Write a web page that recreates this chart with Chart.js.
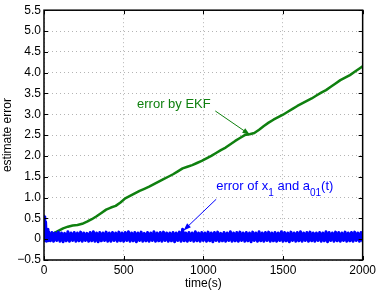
<!DOCTYPE html>
<html>
<head>
<meta charset="utf-8">
<script src="https://cdn.jsdelivr.net/npm/chart.js@4"></script>
<style>
	body { margin: 0; background: #fff; }
	#wrap { width: 379px; height: 292px; position: relative; }
</style>
</head>
<body>
<div id="wrap"><canvas id="myChart"></canvas></div>
<script>
// EKF error (grows with time)
const ekfTime = [0, 30, 60, 90, 120, 150, 180, 210, 240, 270, 300, 330, 360, 390, 420, 450, 480, 510, 540, 570,
	600, 630, 660, 690, 720, 750, 780, 810, 840, 870, 900, 930, 960, 990, 1020, 1050, 1080, 1110, 1140, 1170,
	1200, 1230, 1260, 1290, 1320, 1350, 1380, 1410, 1440, 1470, 1500, 1530, 1560, 1590, 1620, 1650, 1680, 1710,
	1740, 1770, 1800, 1830, 1860, 1890, 1920, 1950, 1980, 2000];
const ekfErr = [0, 0.06, 0.14, 0.2, 0.26, 0.3, 0.33, 0.34, 0.37, 0.42, 0.48, 0.55, 0.63, 0.71, 0.76, 0.8, 0.88, 0.98, 1.04, 1.1,
	1.16, 1.21, 1.26, 1.32, 1.38, 1.44, 1.5, 1.56, 1.63, 1.7, 1.74, 1.78, 1.83, 1.88, 1.94, 2.0, 2.07, 2.14, 2.2, 2.28,
	2.36, 2.43, 2.5, 2.52, 2.55, 2.63, 2.72, 2.8, 2.87, 2.93, 2.99, 3.06, 3.13, 3.2, 3.26, 3.32, 3.38, 3.45,
	3.52, 3.58, 3.66, 3.74, 3.82, 3.88, 3.94, 4.02, 4.1, 4.15];

// error of x1 and a01(t) (noisy band around zero)
const obsTime = [0, 5, 10, 15, 20, 25, 30,
	40, 50, 60, 70, 80, 90, 100, 110, 120, 130,
	140, 150, 160, 170, 180, 190, 200, 210, 220, 230,
	240, 250, 260, 270, 280, 290, 300, 310, 320, 330,
	340, 350, 360, 370, 380, 390, 400, 410, 420, 430,
	440, 450, 460, 470, 480, 490, 500, 510, 520, 530,
	540, 550, 560, 570, 580, 590, 600, 610, 620, 630,
	640, 650, 660, 670, 680, 690, 700, 710, 720, 730,
	740, 750, 760, 770, 780, 790, 800, 810, 820, 830,
	840, 850, 860, 870, 880, 890, 900, 910, 920, 930,
	940, 950, 960, 970, 980, 990, 1000, 1010, 1020, 1030,
	1040, 1050, 1060, 1070, 1080, 1090, 1100, 1110, 1120, 1130,
	1140, 1150, 1160, 1170, 1180, 1190, 1200, 1210, 1220, 1230,
	1240, 1250, 1260, 1270, 1280, 1290, 1300, 1310, 1320, 1330,
	1340, 1350, 1360, 1370, 1380, 1390, 1400, 1410, 1420, 1430,
	1440, 1450, 1460, 1470, 1480, 1490, 1500, 1510, 1520, 1530,
	1540, 1550, 1560, 1570, 1580, 1590, 1600, 1610, 1620, 1630,
	1640, 1650, 1660, 1670, 1680, 1690, 1700, 1710, 1720, 1730,
	1740, 1750, 1760, 1770, 1780, 1790, 1800, 1810, 1820, 1830,
	1840, 1850, 1860, 1870, 1880, 1890, 1900, 1910, 1920, 1930,
	1940, 1950, 1960, 1970, 1980, 1990, 2000];
const obsErr = [0.54, -0.03, 0.42, -0.05, 0.24, -0.04, 0.17,
	-0.04, 0.16, -0.05, 0.15, -0.03, 0.17, -0.05, 0.15, -0.06, 0.14,
	-0.04, 0.18, -0.05, 0.15, -0.03, 0.16, -0.05, 0.15, -0.04, 0.17,
	-0.05, 0.15, -0.03, 0.14, -0.05, 0.16, -0.04, 0.18, -0.05, 0.15,
	-0.06, 0.16, -0.04, 0.15, -0.03, 0.17, -0.05, 0.15, -0.05, 0.16,
	-0.03, 0.15, -0.05, 0.17, -0.04, 0.15, -0.05, 0.16, -0.03, 0.18,
	-0.05, 0.15, -0.04, 0.16, -0.06, 0.15, -0.03, 0.17, -0.05, 0.14,
	-0.04, 0.16, -0.05, 0.15, -0.03, 0.18, -0.05, 0.15, -0.04, 0.16,
	-0.05, 0.17, -0.03, 0.15, -0.05, 0.15, -0.04, 0.16, -0.06, 0.15,
	-0.03, 0.17, -0.05, 0.24, -0.04, 0.15, -0.05, 0.16, -0.03, 0.15,
	-0.05, 0.18, -0.04, 0.15, -0.05, 0.16, -0.03, 0.15, -0.05, 0.17,
	-0.04, 0.15, -0.06, 0.16, -0.03, 0.17, -0.05, 0.14, -0.04, 0.16,
	-0.05, 0.15, -0.03, 0.18, -0.05, 0.15, -0.04, 0.16, -0.05, 0.17,
	-0.03, 0.15, -0.05, 0.16, -0.04, 0.15, -0.06, 0.17, -0.03, 0.15,
	-0.05, 0.18, -0.04, 0.15, -0.05, 0.16, -0.03, 0.17, -0.05, 0.15,
	-0.04, 0.16, -0.05, 0.15, -0.03, 0.18, -0.05, 0.16, -0.04, 0.15,
	-0.06, 0.17, -0.03, 0.15, -0.05, 0.16, -0.04, 0.18, -0.05, 0.15,
	-0.03, 0.16, -0.05, 0.17, -0.04, 0.15, -0.05, 0.15, -0.03, 0.16,
	-0.05, 0.15, -0.04, 0.18, -0.06, 0.16, -0.03, 0.15, -0.05, 0.17,
	-0.04, 0.16, -0.05, 0.15, -0.03, 0.17, -0.05, 0.15, -0.04, 0.16,
	-0.05, 0.17, -0.03, 0.15, -0.05, 0.16, -0.04];

const xTicks = [0, 500, 1000, 1500, 2000];
const yTicks = [-0.5, 0, 0.5, 1, 1.5, 2, 2.5, 3, 3.5, 4, 4.5, 5, 5.5];

const FONT = '"Liberation Sans", Arial, sans-serif';
const GREEN = '#0f800f';
const BLUE = '#0000ff';

const toPoints = (xs, ys) => xs.map((x, i) => ({ x: x, y: ys[i] }));

const fmtY = (v) => {
	if (v === 0) return '0';
	const s = Math.abs(v).toFixed(1);
	return v < 0 ? '\u2212' + s : s;
};

// frame, inner tick marks and the two annotations
const decorations = {
	id: 'decorations',
	afterDraw(chart) {
		const { ctx, chartArea: a, scales } = chart;
		const xs = scales.x, ys = scales.y;
		ctx.save();

		// tick marks pointing inward
		ctx.strokeStyle = '#000';
		ctx.lineWidth = 1;
		ctx.beginPath();
		xTicks.forEach((t) => {
			const px = Math.round(xs.getPixelForValue(t)) + 0.5;
			ctx.moveTo(px, a.bottom); ctx.lineTo(px, a.bottom - 4);
			ctx.moveTo(px, a.top); ctx.lineTo(px, a.top + 4);
		});
		yTicks.forEach((t) => {
			const py = Math.round(ys.getPixelForValue(t)) + 0.5;
			ctx.moveTo(a.left, py); ctx.lineTo(a.left + 4, py);
			ctx.moveTo(a.right, py); ctx.lineTo(a.right - 4, py);
		});
		ctx.stroke();

		// box
		ctx.lineWidth = 1.5;
		ctx.strokeRect(a.left, a.top, a.right - a.left, a.bottom - a.top);

		const arrow = (x0, y0, x1, y1, color) => {
			const p0 = [xs.getPixelForValue(x0), ys.getPixelForValue(y0)];
			const p1 = [xs.getPixelForValue(x1), ys.getPixelForValue(y1)];
			const ang = Math.atan2(p1[1] - p0[1], p1[0] - p0[0]);
			ctx.strokeStyle = color;
			ctx.fillStyle = color;
			ctx.lineWidth = 1;
			ctx.beginPath();
			ctx.moveTo(p0[0], p0[1]);
			ctx.lineTo(p1[0], p1[1]);
			ctx.stroke();
			ctx.beginPath();
			ctx.moveTo(p1[0], p1[1]);
			ctx.lineTo(p1[0] - 8 * Math.cos(ang - 0.35), p1[1] - 8 * Math.sin(ang - 0.35));
			ctx.lineTo(p1[0] - 8 * Math.cos(ang + 0.35), p1[1] - 8 * Math.sin(ang + 0.35));
			ctx.closePath();
			ctx.fill();
		};

		// pieces: [text, subscript?]
		const label = (x, y, parts, color) => {
			let px = xs.getPixelForValue(x);
			const py = ys.getPixelForValue(y);
			ctx.fillStyle = color;
			ctx.textAlign = 'left';
			ctx.textBaseline = 'alphabetic';
			parts.forEach(([txt, sub]) => {
				ctx.font = (sub ? '10px ' : '13px ') + FONT;
				ctx.fillText(txt, px, sub ? py + 6 : py);
				px += ctx.measureText(txt).width;
			});
		};

		label(584, 3.15, [['error by EKF', false]], GREEN);
		arrow(1075, 3.08, 1292, 2.51, GREEN);

		label(1081, 1.19, [['error of x', false], ['1', true], [' and a', false], ['01', true], ['(t)', false]], BLUE);
		arrow(1081, 0.96, 876, 0.21, BLUE);

		ctx.restore();
	}
};

const ctx = document.getElementById('myChart');
// eslint-disable-next-line no-unused-vars
const myChart = new Chart(ctx, {
	type: 'line',
	data: {
		datasets: [{
			label: 'error of x1 and a01(t)',
			data: toPoints(obsTime, obsErr),
			borderColor: BLUE,
			borderWidth: 3,
			borderJoinStyle: 'round',
			borderCapStyle: 'round',
			pointRadius: 0,
			tension: 0,
			fill: false
		}, {
			label: 'error by EKF',
			data: toPoints(ekfTime, ekfErr),
			borderColor: GREEN,
			borderWidth: 2.5,
			borderJoinStyle: 'round',
			pointRadius: 0,
			tension: 0,
			fill: false
		}]
	},
	options: {
		responsive: true,
		maintainAspectRatio: false,
		animation: false,
		layout: { padding: { top: 5, right: 13, left: 0, bottom: 0 } },
		plugins: {
			legend: { display: false },
			tooltip: { enabled: false }
		},
		scales: {
			x: {
				type: 'linear',
				min: 0,
				max: 2000,
				afterFit: (s) => { s.height = 32; },
				afterBuildTicks: (s) => { s.ticks = xTicks.map((v) => ({ value: v })); },
				ticks: {
					color: '#000',
					font: { family: FONT, size: 12 },
					padding: 3,
					maxRotation: 0,
					callback: (v) => String(v)
				},
				grid: { color: '#b4b4b4', lineWidth: 1, drawTicks: false },
				border: { display: false, dash: [1, 3] },
				title: {
					display: true,
					text: 'time(s)',
					color: '#000',
					font: { family: FONT, size: 12 },
					padding: { top: 0, bottom: 1 }
				}
			},
			y: {
				type: 'linear',
				min: -0.5,
				max: 5.5,
				afterFit: (s) => { s.width = 44; },
				afterBuildTicks: (s) => { s.ticks = yTicks.map((v) => ({ value: v })); },
				ticks: {
					color: '#000',
					font: { family: FONT, size: 12 },
					padding: 3,
					callback: (v) => fmtY(v)
				},
				grid: { color: '#b4b4b4', lineWidth: 1, drawTicks: false },
				border: { display: false, dash: [1, 3] },
				title: {
					display: true,
					text: 'estimate error',
					color: '#000',
					font: { family: FONT, size: 12 },
					padding: { top: 0, bottom: 0 }
				}
			}
		}
	},
	plugins: [decorations]
});
</script>
</body>
</html>
